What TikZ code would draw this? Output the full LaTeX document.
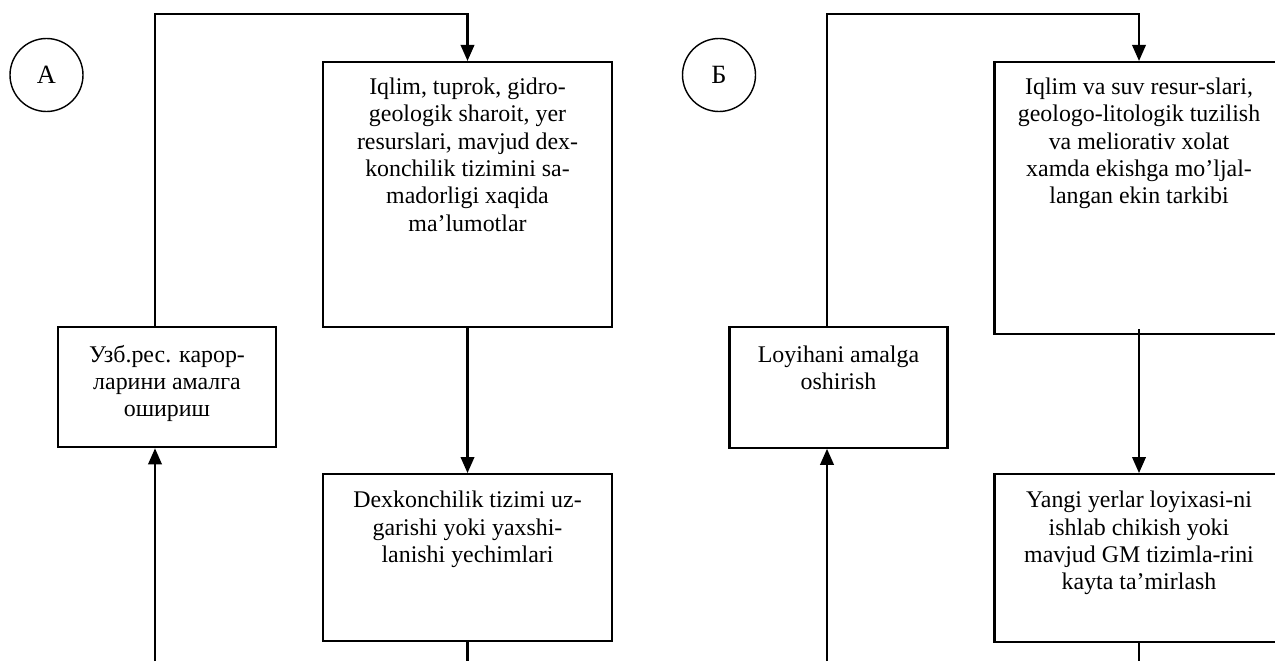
\documentclass[tikz,border=0pt]{standalone}
\usepackage{fontspec}
\setmainfont{Liberation Serif}
\usetikzlibrary{arrows.meta,positioning}

\begin{document}
\begin{tikzpicture}[
  every node/.style={font=\fontsize{13.6}{15.55}\selectfont, align=center},
  box/.style={draw, line width=1.2pt, minimum width=5.78cm, inner sep=0pt},
  task/.style={draw, line width=1.2pt, minimum width=4.36cm, minimum height=2.41cm, inner sep=0pt},
  txt/.style={inner sep=0pt},
  tag/.style={draw, circle, line width=0.8pt, minimum size=1.46cm, inner sep=0pt, font=\fontsize{15}{18}\selectfont},
  arrow/.style={-{Triangle[length=0.32cm,width=0.27cm]}, line width=1.2pt},
  flow/.style={line width=1.2pt}
]
  \path[use as bounding box, clip] (0,0) rectangle (25.5,-13.22);

  % Nodes, panel A
  \node (tagA) [tag] at (0.93,-1.5) {А};
  \node (infoA) [box, minimum height=5.3cm] at (9.35,-3.89) {};
  \node (solveA) [box, minimum height=3.34cm, below=2.9cm of infoA] {};
  \node (actA) [task] at (3.34,-7.74) {};

  \node (infoAtxt) [txt, below=0.33cm of infoA.north] {Iqlim, tuprok, gidro-\\geologik sharoit, yer\\resurslari, mavjud dex-\\konchilik tizimini sa-\\madorligi xaqida\\ma’lumotlar};
  \node (solveAtxt) [txt, below=0.36cm of solveA.north] {Dexkonchilik tizimi uz-\\garishi yoki yaxshi-\\lanishi yechimlari};
  \node (actAtxt) [txt, below=0.38cm of actA.north] {Узб.рес. карор-\\ларини амалга\\ошириш};

  \coordinate (inA) at (3.1,-13.22);
  \coordinate (outA) at (infoA |- inA);

  % Nodes, panel B
  \node (tagB) [tag] at (14.38,-1.5) {Б};
  \node (infoB) [box, minimum height=5.44cm] at (22.78,-3.96) {};
  \node (solveB) [box, minimum height=3.36cm, below=2.76cm of infoB] {};
  \node (actB) [task] at (16.77,-7.75) {};

  \node (infoBtxt) [txt, below=0.33cm of infoB.north] {Iqlim va suv resur-slari,\\geologo-litologik tuzilish\\va meliorativ xolat\\xamda ekishga mo’ljal-\\langan ekin tarkibi};
  \node (solveBtxt) [txt, below=0.36cm of solveB.north] {Yangi yerlar loyixasi-ni\\ishlab chikish yoki\\mavjud GM tizimla-rini\\kayta ta’mirlash};
  \node (actBtxt) [txt, below=0.38cm of actB.north] {Loyihani amalga\\oshirish};

  \coordinate (inB) at (16.54,-13.22);
  \coordinate (outB) at (infoB |- inB);

  % Paths
  \draw [arrow] (infoA) -- (solveA);
  \draw [flow] (solveA) -- (outA);
  \draw [arrow] (inA) -- (inA |- actA.south);
  \draw [arrow] (inA |- actA.north) |- ([yshift=0.94cm]infoA.north) -- (infoA);

  \draw [arrow] ([yshift=0.12cm]infoB.south) -- (solveB);
  \draw [flow] (solveB) -- (outB);
  \draw [arrow] (inB) -- (inB |- actB.south);
  \draw [arrow] (inB |- actB.north) |- ([yshift=0.94cm]infoB.north) -- (infoB);
\end{tikzpicture}
\end{document}
